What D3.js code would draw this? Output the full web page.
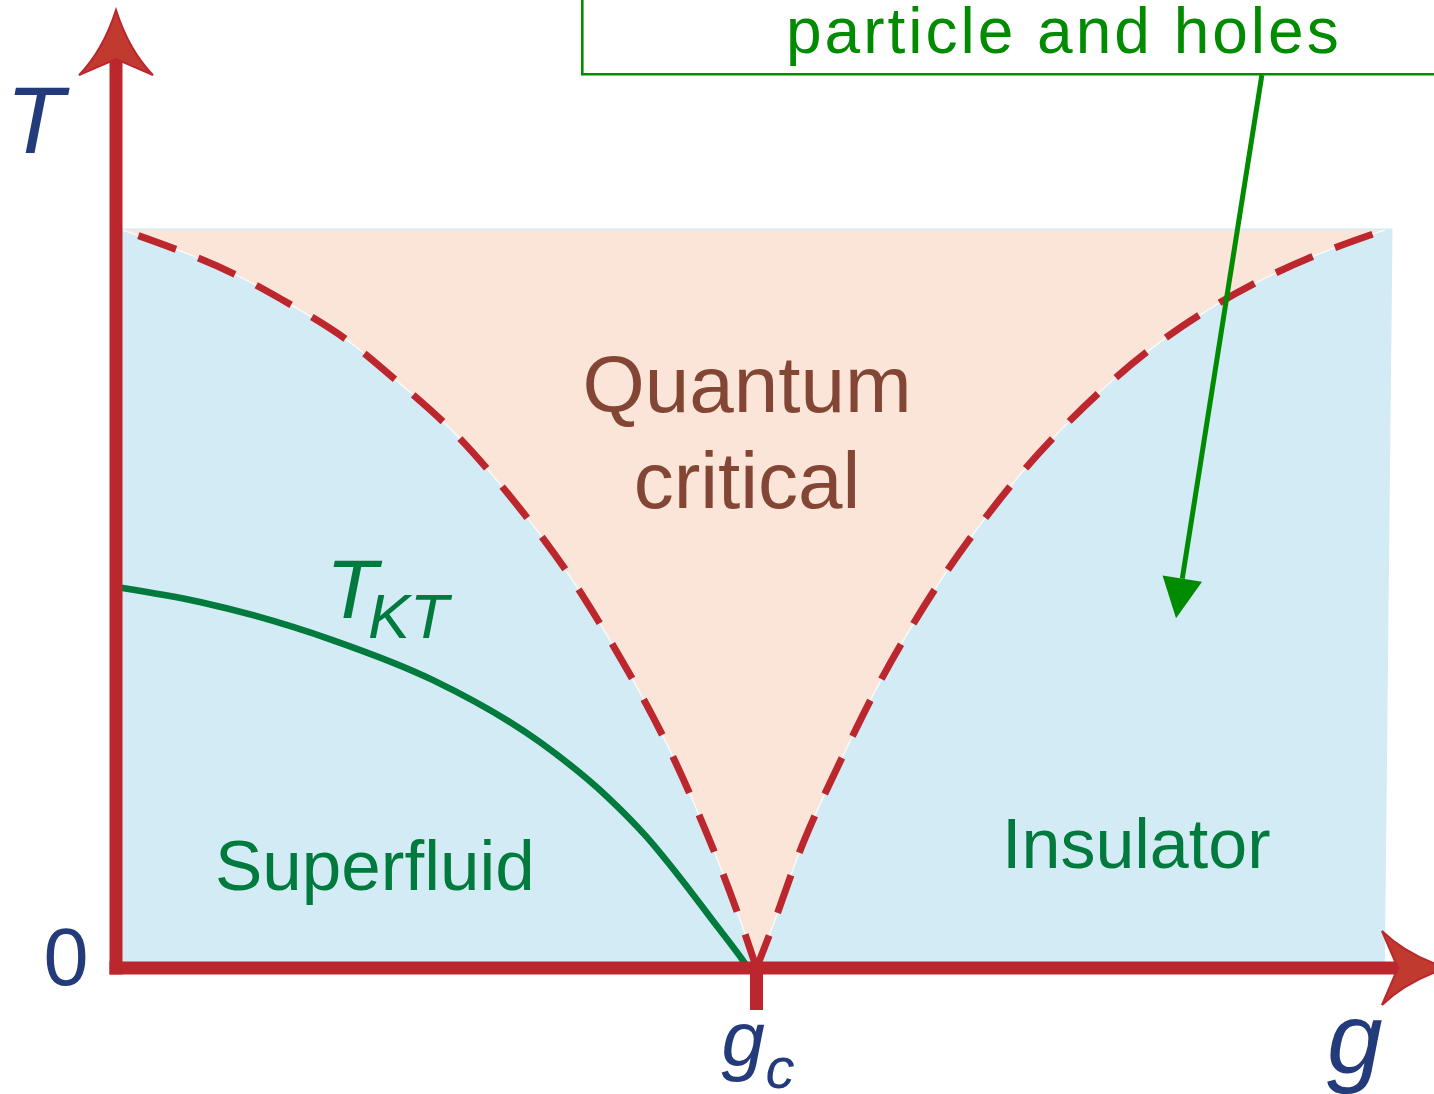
<!DOCTYPE html>
<html>
<head>
<meta charset="utf-8">
<script src="https://cdn.jsdelivr.net/npm/d3@7"></script>
<style>
  html, body { margin: 0; padding: 0; background: #fff; }
  svg { display: block; font-family: "Liberation Sans", Arial, Helvetica, sans-serif; }
</style>
</head>
<body>
<svg id="chart" width="1434" height="1094"></svg>
<script>
// Phase diagram: T vs g, critical point at g = gc (gc = 1, top of the fan = 1)

// crossover line on the superfluid side, [g, T]
const crossoverLeft = [
    [0.01, 1.0], [0.095, 0.974], [0.186, 0.942], [0.275, 0.898], [0.361, 0.854],
    [0.436, 0.797], [0.514, 0.740], [0.579, 0.678], [0.643, 0.610], [0.704, 0.539],
    [0.756, 0.467], [0.806, 0.393], [0.854, 0.316], [0.896, 0.237], [0.935, 0.157],
    [0.971, 0.075], [1.0, 0.0]
];

// crossover line on the insulator side, [g, T]
const crossoverRight = [
    [1.0, 0.0], [1.034, 0.075], [1.065, 0.156], [1.104, 0.232], [1.149, 0.313],
    [1.193, 0.390], [1.243, 0.465], [1.297, 0.539], [1.354, 0.607], [1.416, 0.675],
    [1.486, 0.740], [1.560, 0.801], [1.638, 0.855], [1.721, 0.902], [1.810, 0.943],
    [1.900, 0.976], [1.981, 1.0]
];

// Kosterlitz-Thouless transition line, [g, T]
const tktLine = [
    [0.003, 0.516], [0.131, 0.496], [0.339, 0.444], [0.495, 0.390], [0.662, 0.306],
    [0.767, 0.232], [0.826, 0.180], [0.881, 0.122], [0.931, 0.065], [0.974, 0.016],
    [0.987, 0.0]
];

const gc = 1;
const gMax = 2.078;   // tip of g axis arrow
const tMax = 1.298;   // tip of T axis arrow
const shadedG = [1.993, 1.981]; // right edge of the shaded area (top, bottom)

const regionNames = ['Quantum', 'critical', 'Superfluid', 'Insulator'];
const tickLabels = ['0', 'g', 'c'];
const axisLabels = ['T', 'g'];
const noteText = 'particle and holes';

const red = '#bc262d';
const navy = '#233a7b';
const darkGreen = '#007a3d';
const noteGreen = '#008b00';

const svg = d3.select('#chart');

const x = d3.scaleLinear().domain([0, 1]).range([116, 756.5]);
const y = d3.scaleLinear().domain([0, 1]).range([968, 230]);

const line = d3.line()
    .x(d => x(d[0]))
    .y(d => y(d[1]))
    .curve(d3.curveBasis);

// Background regions
svg.append('path')
    .attr('d', d3.line()([
        [x(0), y(0)], [x(0), y(1.002)], [x(shadedG[0]), y(1.002)], [x(shadedG[1]), y(0)]
    ]) + 'Z')
    .attr('fill', '#d3ebf5');

// Quantum critical fan, bounded by both crossover lines and the top
svg.append('path')
    .attr('d', line(crossoverLeft) + line(crossoverRight).replace(/^M/, 'L') + 'Z')
    .attr('fill', '#fae5d8');

// faint white seam between the regions
[crossoverLeft, crossoverRight].forEach(pts => {
    svg.append('path')
        .attr('d', line(pts))
        .attr('fill', 'none')
        .attr('stroke', '#fff')
        .attr('stroke-width', 1.4)
        .attr('opacity', 0.8);
});

// Dashed crossover lines
svg.append('path')
    .attr('d', line(crossoverLeft))
    .attr('fill', 'none')
    .attr('stroke', red)
    .attr('stroke-width', 7)
    .attr('stroke-dasharray', '40 24')
    .attr('stroke-dashoffset', 47);

svg.append('path')
    .attr('d', line(crossoverRight.slice().reverse()))
    .attr('fill', 'none')
    .attr('stroke', red)
    .attr('stroke-width', 7)
    .attr('stroke-dasharray', '40 24')
    .attr('stroke-dashoffset', 51);

// T_KT line
svg.append('path')
    .attr('d', d3.line()
        .x(d => x(d[0]))
        .y(d => y(d[1]))
        .curve(d3.curveMonotoneX)(tktLine))
    .attr('fill', 'none')
    .attr('stroke', darkGreen)
    .attr('stroke-width', 6.5);

// Axes
const axisW = 13;
svg.append('line')
    .attr('x1', x(0)).attr('y1', y(0) + axisW / 2)
    .attr('x2', x(0)).attr('y2', y(tMax) + 50)
    .attr('stroke', red).attr('stroke-width', axisW);

svg.append('line')
    .attr('x1', x(0) - axisW / 2).attr('y1', y(0))
    .attr('x2', x(gMax) - 50).attr('y2', y(0))
    .attr('stroke', red).attr('stroke-width', axisW);

// tick at gc
svg.append('line')
    .attr('x1', x(gc)).attr('y1', y(0))
    .attr('x2', x(gc)).attr('y2', y(0) + 42)
    .attr('stroke', red).attr('stroke-width', axisW);

// swept arrow head, pointing up, tip at (0,0)
function arrowHead(len, half, notch) {
    return `M0,0 Q${-half * 0.35},${len * 0.62} ${-half},${len}` +
           ` L0,${notch} L${half},${len} Q${half * 0.35},${len * 0.62} 0,0 Z`;
}

svg.append('path')
    .attr('d', arrowHead(65, 37, 49))
    .attr('transform', `translate(${x(0)},${y(tMax)})`)
    .attr('fill', '#c03a30')
    .attr('stroke', red)
    .attr('stroke-width', 2);

svg.append('path')
    .attr('d', arrowHead(65, 37, 49))
    .attr('transform', `translate(${x(gMax)},${y(0)}) rotate(90)`)
    .attr('fill', '#c03a30')
    .attr('stroke', red)
    .attr('stroke-width', 2);

// Axis labels
svg.append('text')
    .attr('x', 6).attr('y', 153)
    .attr('font-size', 95)
    .attr('font-style', 'italic')
    .attr('fill', navy)
    .text(axisLabels[0]);

svg.append('text')
    .attr('x', x(gMax) - 120).attr('y', 1073)
    .attr('font-size', 100)
    .attr('font-style', 'italic')
    .attr('fill', navy)
    .text(axisLabels[1]);

svg.append('text')
    .attr('x', 66).attr('y', 985)
    .attr('text-anchor', 'middle')
    .attr('font-size', 81)
    .attr('fill', navy)
    .text(tickLabels[0]);

const gcLabel = svg.append('text')
    .attr('y', 1066)
    .attr('font-style', 'italic')
    .attr('fill', navy);
gcLabel.append('tspan')
    .attr('x', x(gc) - 35)
    .attr('font-size', 78)
    .text(tickLabels[1]);
gcLabel.append('tspan')
    .attr('x', x(gc) + 9)
    .attr('y', 1088)
    .attr('font-size', 58)
    .text(tickLabels[2]);

// Region labels
svg.append('text')
    .attr('x', 747).attr('y', 412)
    .attr('text-anchor', 'middle')
    .attr('font-size', 80)
    .attr('fill', '#834634')
    .text(regionNames[0]);

svg.append('text')
    .attr('x', 747).attr('y', 508)
    .attr('text-anchor', 'middle')
    .attr('font-size', 80)
    .attr('fill', '#834634')
    .text(regionNames[1]);

svg.append('text')
    .attr('x', 215).attr('y', 890)
    .attr('font-size', 71)
    .attr('fill', darkGreen)
    .text(regionNames[2]);

svg.append('text')
    .attr('x', 1002).attr('y', 868)
    .attr('font-size', 70)
    .attr('fill', darkGreen)
    .text(regionNames[3]);

const tkt = svg.append('text')
    .attr('font-style', 'italic')
    .attr('fill', darkGreen);
tkt.append('tspan')
    .attr('x', 326).attr('y', 618)
    .attr('font-size', 84)
    .text('T');
tkt.append('tspan')
    .attr('x', 368).attr('y', 638)
    .attr('font-size', 63)
    .text('KT');

// Annotation box and arrow
const boxLeft = 0.728, boxBottom = 1.211;
svg.append('path')
    .attr('d', `M${x(boxLeft)},-10 L${x(boxLeft)},${y(boxBottom)} L1450,${y(boxBottom)}`)
    .attr('fill', 'none')
    .attr('stroke', noteGreen)
    .attr('stroke-width', 2.6);

svg.append('text')
    .attr('x', 786).attr('y', 53)
    .attr('font-size', 64)
    .attr('letter-spacing', 3)
    .attr('fill', noteGreen)
    .text(noteText);

const arrowFrom = [1.789, 1.210], arrowTo = [1.655, 0.474];
const ax0 = x(arrowFrom[0]), ay0 = y(arrowFrom[1]);
const ax1 = x(arrowTo[0]), ay1 = y(arrowTo[1]);
const ang = Math.atan2(ay1 - ay0, ax1 - ax0);
const headLen = 40, headHalf = 20;
const bx = ax1 - headLen * Math.cos(ang), by = ay1 - headLen * Math.sin(ang);

svg.append('line')
    .attr('x1', ax0).attr('y1', ay0)
    .attr('x2', bx).attr('y2', by)
    .attr('stroke', noteGreen)
    .attr('stroke-width', 5);

svg.append('path')
    .attr('d', d3.line()([
        [ax1, ay1],
        [bx + headHalf * Math.sin(ang), by - headHalf * Math.cos(ang)],
        [bx - headHalf * Math.sin(ang), by + headHalf * Math.cos(ang)]
    ]) + 'Z')
    .attr('fill', noteGreen);
</script>
</body>
</html>
